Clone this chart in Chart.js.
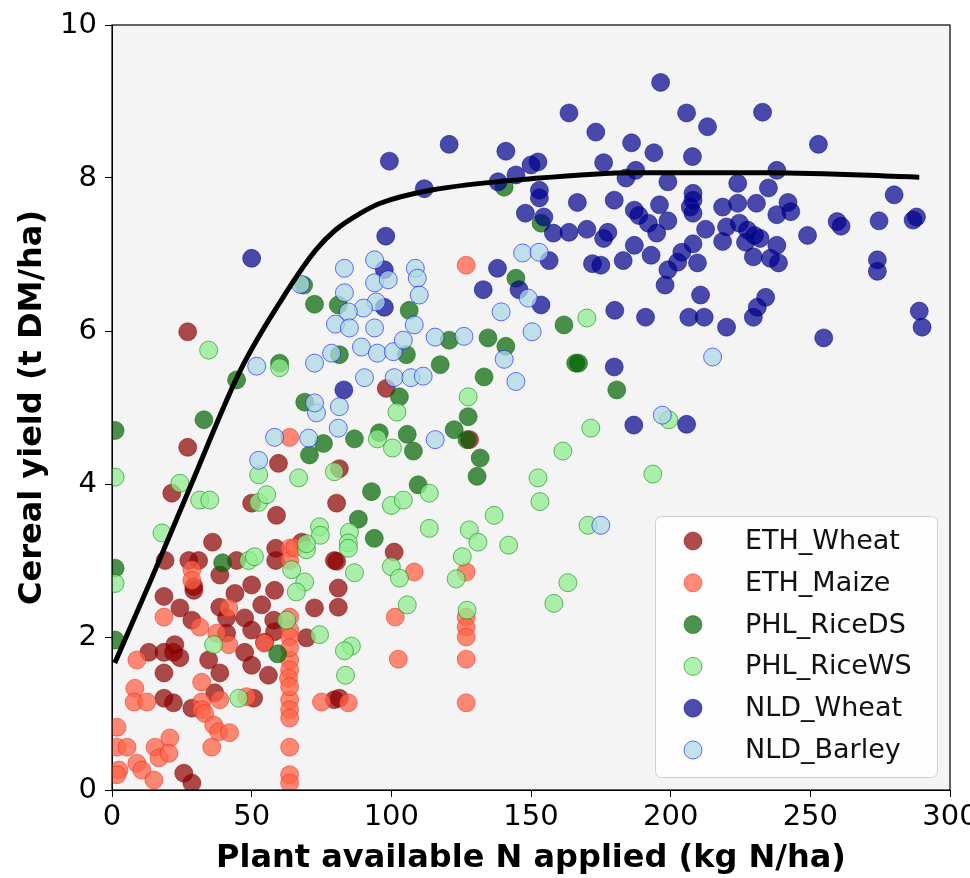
<!DOCTYPE html>
<html>
<head>
<meta charset="utf-8">
<script src="https://cdn.jsdelivr.net/npm/chart.js@4.4.1/dist/chart.umd.min.js"></script>
<style>
  html, body { margin: 0; padding: 0; background: #fff; }
  #wrap { width: 970px; height: 878px; }
</style>
</head>
<body>
<div id="wrap"><canvas id="chart" width="970" height="878"></canvas></div>
<script>
// series values, [N applied kg/ha, yield t DM/ha]
const ethWheat = [
  [21.4,3.88],[50,3.75],[58.9,3.59],[80.4,3.75],[36,3.24],[19,3.0],[27.5,3.0],[31,3.0],[38.6,2.81],[44.6,3.0],
  [58.6,3.16],[58.6,3.0],[67.9,3.24],[79.6,3.0],[29.3,2.66],[29.3,2.61],[50,2.68],[44,2.57],[18.6,2.53],[58.2,2.61],
  [81,2.64],[81,2.39],[24.3,2.38],[38.6,2.39],[72.5,2.38],[28.6,2.22],[41,2.25],[47.5,2.25],[50,2.09],[57.9,2.22],
  [58.2,2.07],[54.6,1.93],[69.6,1.99],[41,2.05],[47.5,1.8],[50,1.63],[56,1.5],[34.6,1.7],[38.6,1.53],[13.2,1.8],
  [18.6,1.8],[22,1.8],[24.3,1.73],[22.5,1.9],[18.6,1.53],[18.6,1.2],[22,1.14],[28.6,1.07],[36.8,1.27],[50.7,1.2],
  [79.6,1.18],[25.7,0.22],[28.6,0.09],[27.1,4.48],[59.6,4.27],[27.1,5.99],[98.2,5.25],[81.4,4.2],[101,3.11],
  [80.4,2.99],[81.4,1.2],[128,4.58],[53.6,2.42]
];
const ethMaize = [
  [63.6,3.16],[28.6,2.88],[28.6,2.74],[41.8,2.38],[18.6,2.26],[31.4,2.13],[63.6,2.26],[63.6,2.09],[63.6,1.7],[41.8,1.9],
  [54.6,1.92],[8.9,1.7],[32.1,1.41],[8.2,1.33],[7.9,1.15],[12.5,1.15],[32.1,1.15],[32.1,1.05],[33.2,1.0],[38.6,1.18],
  [63.6,1.18],[63.6,1.05],[63.6,0.94],[75,1.15],[1.8,0.82],[36.4,0.85],[38.2,0.76],[42.1,0.75],[20.7,0.68],[15.4,0.56],
  [16.8,0.42],[20.4,0.48],[35.7,0.56],[1.8,0.56],[5.4,0.56],[8.9,0.35],[10.7,0.26],[2.5,0.26],[1.8,0.2],[15,0.13],
  [63.6,0.56],[63.6,0.2],[63.6,0.09],[63.6,2.0],[63.6,1.86],[63.6,1.57],[63.2,1.46],[63.6,1.35],[37.5,2.05],[48.2,1.22],
  [63.6,3.0],[108.2,2.85],[126.8,2.85],[101.4,2.26],[126.8,2.26],[126.8,2.13],[126.8,2.0],[102.5,1.71],[126.8,1.71],
  [84.6,1.14],[126.8,1.14],[126.8,6.86],[63.6,4.61],[65.4,3.17]
];
const phlRiceDS = [
  [81,6.34],[106.4,6.27],[81.4,5.69],[105.4,5.69],[117.5,5.56],[120.7,5.88],[134.6,5.91],[141,5.8],[133.2,5.4],[144.6,6.69],
  [161.8,6.08],[166,5.58],[167,5.58],[180.7,5.23],[102.9,5.14],[127.5,4.88],[122.5,4.71],[127.1,4.58],[131.8,4.34],[130.7,4.1],
  [86.8,4.59],[95.7,4.67],[105.7,4.65],[107.9,4.43],[109.6,3.99],[92.9,3.9],[88.2,3.54],[93.9,3.29],[72.5,6.35],[68.6,6.6],
  [60,5.58],[1.1,4.7],[32.9,4.84],[44.6,5.36],[69,5.07],[70.7,4.38],[75.7,4.53],[39.6,2.97],[1.1,2.9],[1.1,1.96],
  [59.3,1.78],[153.6,7.41],[140.4,7.88]
];
const phlRiceWS = [
  [34.6,5.75],[1.1,4.09],[24.3,4.01],[31.4,3.79],[35,3.79],[17.9,3.36],[52.5,4.12],[52.5,3.76],[55.4,3.86],[66.8,4.08],
  [79.6,4.16],[74.3,3.44],[74.6,3.33],[48.9,3.0],[51,3.05],[69.6,3.14],[64.3,2.88],[69,2.72],[66,2.59],[85,3.37],
  [1.1,2.7],[74.3,2.03],[36.4,1.9],[62.5,2.22],[45.4,1.2],[60,5.52],[102,4.94],[127.5,5.14],[170,6.17],[171.4,4.73],
  [161.4,4.43],[152.5,4.08],[153.2,3.77],[136.8,3.59],[170.4,3.46],[113.6,3.42],[127.9,3.4],[131,3.24],[142,3.2],[100,3.72],
  [104.3,3.79],[113.6,3.88],[95,4.59],[100.4,4.47],[84.6,3.23],[84.6,3.16],[86.8,2.84],[100,2.92],[102.9,2.77],[105.7,2.42],
  [125.4,3.05],[123.2,2.76],[127.1,2.35],[163.2,2.71],[158.2,2.44],[85.7,1.88],[83.2,1.82],[83.6,1.5],[193.6,4.13],[199.3,4.84],
  [69.6,3.22]
];
const nldWheat = [
  [196.4,9.25],[163.6,8.85],[205.7,8.85],[232.9,8.86],[173.2,8.6],[213.2,8.67],[252.9,8.44],[186,8.46],[194,8.33],[207.8,8.28],
  [176,8.2],[141,8.35],[152.5,8.21],[150,8.17],[144.6,8.04],[187.5,8.1],[184,8.0],[238,8.1],[199,7.95],[224,7.93],
  [235,7.87],[153,7.84],[153,7.74],[280,7.78],[208,7.8],[208,7.71],[207,7.62],[166.6,7.68],[179.8,7.71],[196,7.65],
  [187,7.58],[188.6,7.51],[148,7.54],[154.6,7.49],[218.6,7.62],[224,7.67],[230.7,7.67],[242,7.68],[243,7.56],[238,7.52],
  [208,7.54],[259.6,7.43],[261,7.37],[274.6,7.44],[286.8,7.45],[288,7.49],[249,7.25],[158,7.28],[163.6,7.29],[170,7.33],
  [177.5,7.29],[176,7.21],[192,7.41],[195,7.28],[199,7.44],[212.5,7.33],[220,7.36],[224.6,7.41],[227.5,7.32],[230,7.25],
  [232,7.21],[226.8,7.16],[218.6,7.17],[208,7.14],[204,7.03],[187,7.12],[183,6.92],[193,6.99],[209.6,6.89],[202.5,6.9],
  [199,6.8],[172,6.88],[175,6.86],[156.5,6.92],[238,7.12],[229.6,6.97],[235.7,6.95],[238.6,6.89],[274,6.93],[274,6.78],
  [198,6.6],[210.7,6.47],[234,6.44],[231,6.31],[229.6,6.18],[180,6.27],[191,6.18],[206.5,6.18],[212,6.18],[220,6.05],
  [289,6.26],[290,6.05],[254.8,5.91],[179.8,5.53],[153.6,6.34],[145.7,6.54],[138,6.82],[50,6.95],[98,7.24],[97.5,6.8],
  [97.5,6.31],[83,5.23],[99.3,8.22],[120.7,8.44],[111.8,7.86],[138.2,7.95],[132.9,6.54],[186.8,4.77],[205.7,4.78]
];
const nldBarley = [
  [83.2,6.82],[94,6.93],[108.6,6.82],[109.3,6.69],[110,6.47],[94,6.63],[98.9,6.67],[83.2,6.5],[94.6,6.38],[90,6.3],
  [84.6,6.25],[80,6.09],[85,6.04],[94,6.04],[108.2,6.08],[89.3,5.79],[95,5.71],[100.7,5.73],[104.3,5.88],[115.7,5.92],
  [126,5.93],[78.6,5.71],[90.4,5.39],[101,5.39],[107,5.39],[111.4,5.41],[81.4,5.01],[81,4.73],[115.7,4.58],[139.3,6.25],
  [140.4,5.63],[144.6,5.34],[150.4,5.99],[147,7.02],[152.9,7.03],[149,6.43],[175,3.46],[67.5,6.61],[72.5,5.58],[51.8,5.54],
  [58.2,4.61],[52.5,4.31],[70.4,4.6],[73.2,4.93],[72.5,5.06],[215,5.66],[197,4.9]
];
// fitted response curve
const fitN = [1, 14, 29, 46, 63, 73, 80, 89, 96, 114, 150, 187, 235, 289];
const fitYield = [1.66, 2.75, 4.05, 5.49, 6.54, 7.06, 7.32, 7.54, 7.67, 7.84, 7.99, 8.07, 8.07, 8.01];

const seriesNames = ["ETH_Wheat", "ETH_Maize", "PHL_RiceDS", "PHL_RiceWS", "NLD_Wheat", "NLD_Barley"];
const seriesData = [ethWheat, ethMaize, phlRiceDS, phlRiceWS, nldWheat, nldBarley];
const fills = ["rgba(139,0,0,0.7)", "rgba(255,99,71,0.75)", "rgba(0,100,0,0.7)",
               "rgba(144,238,144,0.75)", "rgba(0,0,139,0.7)", "rgba(173,216,230,0.75)"];
const edges = ["rgba(139,0,0,0.5)", "rgba(230,20,10,0.45)", "rgba(0,100,0,0.5)",
               "rgba(0,128,0,0.55)", "rgba(0,0,139,0.5)", "rgba(0,0,255,0.55)"];
const xTicks = [0, 50, 100, 150, 200, 250, 300];
const yTicks = [0, 2, 4, 6, 8, 10];

Chart.defaults.font.family = "'DejaVu Sans', sans-serif";
Chart.defaults.color = "#000";

const toPts = (a) => a.map((p) => ({ x: p[0], y: p[1] }));

const datasets = seriesNames.map((name, i) => ({
  type: "scatter",
  label: name,
  data: toPts(seriesData[i]),
  backgroundColor: fills[i],
  borderColor: edges[i],
  borderWidth: 1,
  pointRadius: 9,
  pointHoverRadius: 9,
  order: 10 - i,
}));
datasets.push({
  type: "line",
  label: "fit",
  data: fitN.map((n, i) => ({ x: n, y: fitYield[i] })),
  borderColor: "#000",
  borderWidth: 5,
  pointRadius: 0,
  fill: false,
  cubicInterpolationMode: "monotone",
  order: 0,
});

const bgPlugin = {
  id: "bg",
  beforeDraw(chart) {
    const { ctx, chartArea: a } = chart;
    ctx.save();
    ctx.fillStyle = "#fff";
    ctx.fillRect(0, 0, chart.width, chart.height);
    ctx.fillStyle = "#f4f4f4";
    ctx.fillRect(a.left, a.top, a.right - a.left, a.bottom - a.top);
    ctx.restore();
  },
  afterDraw(chart) {
    const { ctx, chartArea: a } = chart;
    ctx.save();
    ctx.strokeStyle = "#000";
    ctx.lineWidth = 1.2;
    ctx.strokeRect(a.left, a.top, a.right - a.left, a.bottom - a.top);
    ctx.restore();
  },
};

// legend drawn inside the plot, lower right
const legendPlugin = {
  id: "boxLegend",
  afterDraw(chart) {
    const ctx = chart.ctx;
    const x0 = 655.5, y0 = 516.5, w = 282, h = 261;
    ctx.save();
    ctx.beginPath();
    ctx.roundRect(x0, y0, w, h, 6);
    ctx.fillStyle = "rgba(255,255,255,0.8)";
    ctx.fill();
    ctx.strokeStyle = "#d0d0d0";
    ctx.lineWidth = 1;
    ctx.stroke();
    ctx.font = "27px 'DejaVu Sans'";
    ctx.textBaseline = "middle";
    ctx.textAlign = "left";
    seriesNames.forEach((name, i) => {
      const cy = 541 + i * 41.8;
      ctx.beginPath();
      ctx.arc(693, cy, 9, 0, Math.PI * 2);
      ctx.fillStyle = fills[i];
      ctx.fill();
      ctx.strokeStyle = edges[i];
      ctx.lineWidth = 1;
      ctx.stroke();
      ctx.fillStyle = "#111";
      ctx.fillText(name, 745, cy + 1);
    });
    ctx.restore();
  },
};

new Chart(document.getElementById("chart"), {
  type: "scatter",
  data: { datasets: datasets },
  options: {
    responsive: false,
    animation: false,
    events: [],
    layout: { padding: { left: 0, right: 20, top: 25, bottom: 0 } },
    plugins: { legend: { display: false }, tooltip: { enabled: false } },
    scales: {
      x: {
        type: "linear",
        min: 0,
        max: 300,
        afterBuildTicks: (s) => { s.ticks = xTicks.map((v) => ({ value: v })); },
        ticks: { font: { size: 29 }, color: "#000", padding: 3, maxRotation: 0, autoSkip: false },
        grid: { display: true, drawOnChartArea: false, drawTicks: true, tickLength: 7, color: "#000", lineWidth: 1 },
        border: { display: true, color: "#000", width: 1 },
        title: {
          display: true,
          text: "Plant available N applied (kg N/ha)",
          font: { size: 32, weight: "bold" },
          color: "#000",
          padding: { top: 0, bottom: 0 },
        },
        afterFit: (s) => { s.height = 88; s.paddingLeft = 0; s.paddingRight = 0; },
      },
      y: {
        type: "linear",
        min: 0,
        max: 10,
        afterBuildTicks: (s) => { s.ticks = yTicks.map((v) => ({ value: v })); },
        ticks: { font: { size: 29 }, color: "#000", padding: 8 },
        grid: { display: true, drawOnChartArea: false, drawTicks: true, tickLength: 7, color: "#000", lineWidth: 1 },
        border: { display: true, color: "#000", width: 1 },
        title: {
          display: true,
          text: "Cereal yield (t DM/ha)",
          font: { size: 32, weight: "bold" },
          color: "#000",
          padding: { top: 13, bottom: 0 },
        },
        afterFit: (s) => { s.width = 112; s.paddingTop = 0; s.paddingBottom = 0; },
      },
    },
  },
  plugins: [bgPlugin, legendPlugin],
});
</script>
</body>
</html>
